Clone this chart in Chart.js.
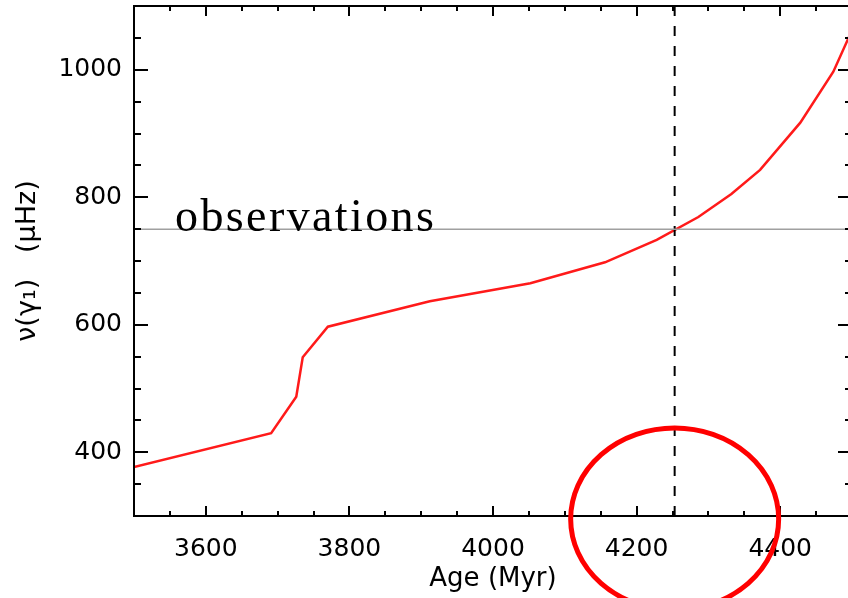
<!DOCTYPE html>
<html>
<head>
<meta charset="utf-8">
<script src="https://cdn.jsdelivr.net/npm/chart.js@4"></script>
<style>
  html, body { margin: 0; padding: 0; overflow: hidden; background: #fff; }
  canvas { display: block; }
</style>
</head>
<body>
<canvas id="chart" width="860" height="598"></canvas>
<script>
// model track: age (Myr) against frequency of the gamma_1 mode (muHz)
var ages  = [3500, 3691, 3726, 3735, 3770, 3912, 4052, 4156, 4228, 4286, 4332, 4372, 4428, 4474, 4500];
var freqs = [377, 430, 487, 549, 597, 637, 665, 698, 733, 769, 805, 843, 917, 997, 1062];

var obsFreq = 750;   // observed frequency
var bestAge = 4253;  // age where the track crosses it
var obsLabel = 'observations';

var xTicks = [3600, 3800, 4000, 4200, 4400];
var yTicks = [400, 600, 800, 1000];
var xMin = 3500, xMax = 4500;
var yMin = 300, yMax = 1100;

var track = ages.map(function (a, i) { return { x: a, y: freqs[i] }; });

var tickFont = { family: 'DejaVu Sans', size: 25 };

function plainLabel(v) { return String(v); }

// IDL style box with inward ticks on all four sides
var frame = {
  id: 'frame',
  afterDatasetsDraw: function (chart) {
    var ctx = chart.ctx, a = chart.chartArea;
    var xs = chart.scales.x, ys = chart.scales.y;
    var v, p, len;
    ctx.save();
    ctx.strokeStyle = '#000';
    ctx.lineWidth = 2;
    ctx.strokeRect(a.left, a.top, a.right - a.left, a.bottom - a.top);
    ctx.beginPath();
    for (v = xMin; v <= xMax; v += 50) {
      p = Math.round(xs.getPixelForValue(v));
      len = v % 200 === 0 ? 10 : 5;
      ctx.moveTo(p, a.bottom); ctx.lineTo(p, a.bottom - len);
      ctx.moveTo(p, a.top); ctx.lineTo(p, a.top + len);
    }
    for (v = yMin; v <= yMax; v += 50) {
      p = Math.round(ys.getPixelForValue(v));
      len = v % 200 === 0 ? 14 : 7;
      ctx.moveTo(a.left, p); ctx.lineTo(a.left + len, p);
      ctx.moveTo(a.right, p); ctx.lineTo(a.right - len, p);
    }
    ctx.stroke();
    ctx.restore();
  },
  afterDraw: function (chart) {
    var ctx = chart.ctx;
    var xs = chart.scales.x, ys = chart.scales.y;
    ctx.save();
    // label sitting on the observed line
    ctx.font = '46px "Liberation Serif"';
    ctx.letterSpacing = '2.4px';
    ctx.fillStyle = '#000';
    ctx.textBaseline = 'alphabetic';
    ctx.fillText(obsLabel, xs.getPixelForValue(xMin) + 41, ys.getPixelForValue(obsFreq) + 2);
    ctx.letterSpacing = '0px';
    // hand drawn ring round the best age on the axis
    ctx.strokeStyle = '#ff0000';
    ctx.lineWidth = 5;
    ctx.beginPath();
    ctx.ellipse(xs.getPixelForValue(bestAge), ys.getPixelForValue(yMin) + 3, 104, 91, 0, 0, Math.PI * 2);
    ctx.stroke();
    ctx.restore();
  }
};

new Chart(document.getElementById('chart'), {
  type: 'scatter',
  data: {
    datasets: [
      {
        data: [{ x: xMin, y: obsFreq }, { x: xMax, y: obsFreq }],
        showLine: true,
        borderColor: '#a0a0a0',
        borderWidth: 1.5,
        pointRadius: 0
      },
      {
        data: [{ x: bestAge, y: yMin }, { x: bestAge, y: yMax }],
        showLine: true,
        borderColor: '#000',
        borderWidth: 2,
        borderDash: [10, 10],
        pointRadius: 0
      },
      {
        data: track,
        showLine: true,
        borderColor: '#ff1a1a',
        borderWidth: 2.5,
        tension: 0,
        pointRadius: 0
      }
    ]
  },
  options: {
    responsive: false,
    animation: false,
    layout: { padding: { top: 6, right: 8, left: 0, bottom: 0 } },
    plugins: { legend: { display: false }, tooltip: { enabled: false } },
    scales: {
      x: {
        type: 'linear',
        min: xMin,
        max: xMax,
        afterBuildTicks: function (axis) {
          axis.ticks = xTicks.map(function (v) { return { value: v }; });
        },
        afterFit: function (axis) {
          axis.height = 82;
          axis.paddingLeft = 0;
          axis.paddingRight = 0;
        },
        grid: { display: false, drawTicks: false },
        border: { display: false },
        ticks: { color: '#000', font: tickFont, padding: 18, maxRotation: 0, callback: plainLabel },
        title: {
          display: true,
          text: 'Age (Myr)',
          color: '#000',
          font: { family: 'DejaVu Sans', size: 26 },
          padding: { top: 0, bottom: 3 }
        }
      },
      y: {
        type: 'linear',
        min: yMin,
        max: yMax,
        afterBuildTicks: function (axis) {
          axis.ticks = yTicks.map(function (v) { return { value: v }; });
        },
        afterFit: function (axis) {
          axis.width = 134;
          axis.paddingTop = 0;
          axis.paddingBottom = 0;
        },
        grid: { display: false, drawTicks: false },
        border: { display: false },
        ticks: { color: '#000', font: tickFont, padding: 12, callback: plainLabel },
        title: {
          display: true,
          text: 'ν(γ₁)   (μHz)',
          color: '#000',
          font: { family: 'DejaVu Sans', size: 27 },
          padding: { top: 12, bottom: 0 }
        }
      }
    }
  },
  plugins: [frame]
});
</script>
</body>
</html>
